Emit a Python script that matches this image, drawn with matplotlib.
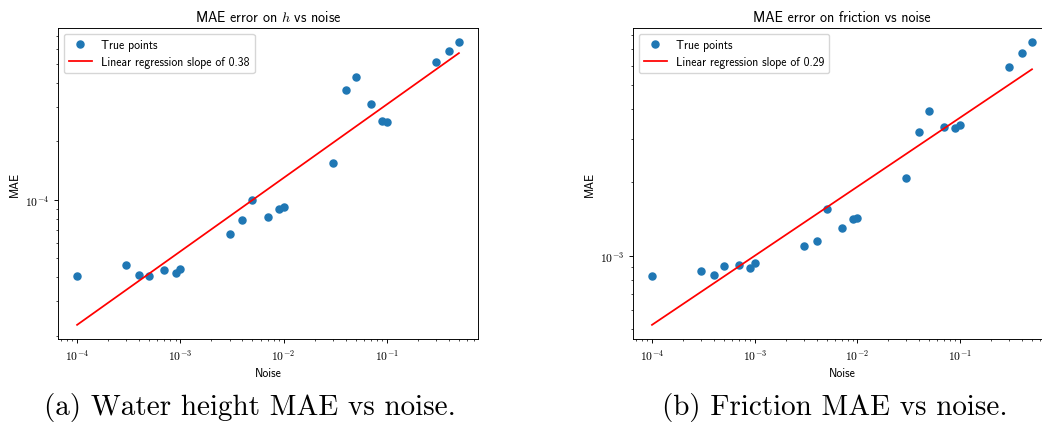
import numpy as np
import matplotlib
matplotlib.use('Agg')
import matplotlib.pyplot as plt
from matplotlib.ticker import FuncFormatter, NullFormatter

noise = [1e-4, 3e-4, 4e-4, 5e-4, 7e-4, 9e-4,
         1e-3, 3e-3, 4e-3, 5e-3, 7e-3, 9e-3,
         1e-2, 3e-2, 4e-2, 5e-2, 7e-2, 9e-2,
         1e-1, 3e-1, 4e-1, 5e-1]
mae_h = [4.04e-5, 4.63e-5, 4.09e-5, 4.07e-5, 4.33e-5, 4.19e-5,
         4.41e-5, 6.64e-5, 7.92e-5, 1.00e-4, 8.15e-5, 8.92e-5,
         9.24e-5, 1.55e-4, 3.68e-4, 4.31e-4, 3.11e-4, 2.55e-4,
         2.52e-4, 5.10e-4, 5.81e-4, 6.49e-4]
mae_friction = [8.29e-4, 8.69e-4, 8.39e-4, 9.05e-4, 9.16e-4, 8.88e-4,
                9.34e-4, 1.10e-3, 1.15e-3, 1.55e-3, 1.30e-3, 1.41e-3,
                1.43e-3, 2.08e-3, 3.21e-3, 3.92e-3, 3.37e-3, 3.34e-3,
                3.45e-3, 5.91e-3, 6.76e-3, 7.50e-3]
slope_text = ['0.38', '0.29']
titles = [r'MAE error on $h$ vs noise', 'MAE error on friction vs noise']
captions = ['(a) Water height MAE vs noise.', '(b) Friction MAE vs noise.']

# the original plots look like default matplotlib figures shrunk to ~0.845
k = 0.845
plt.rcParams['font.family'] = 'cmss10'
plt.rcParams['mathtext.fontset'] = 'cm'
plt.rcParams['axes.unicode_minus'] = False
plt.rcParams['axes.linewidth'] = 0.8 * k
plt.rcParams['xtick.major.width'] = 0.8 * k
plt.rcParams['ytick.major.width'] = 0.8 * k
plt.rcParams['xtick.minor.width'] = 0.6 * k
plt.rcParams['ytick.minor.width'] = 0.6 * k
plt.rcParams['xtick.major.size'] = 3.5 * k
plt.rcParams['ytick.major.size'] = 3.5 * k
plt.rcParams['xtick.minor.size'] = 2 * k
plt.rcParams['ytick.minor.size'] = 2 * k
plt.rcParams['xtick.major.pad'] = 3.5 * k
plt.rcParams['ytick.major.pad'] = 3.5 * k
plt.rcParams['axes.labelpad'] = 4 * k
plt.rcParams['axes.titlepad'] = 6 * k
plt.rcParams['legend.fontsize'] = 10 * k

W, H = 1042, 435
fig = plt.figure(figsize=(W / 100, H / 100), dpi=100)
boxes = [(58, 29, 420, 311), (633, 29, 418, 311)]
caption_x = [250, 835]


def decade(v, pos):
    return r'$10^{%d}$' % int(round(np.log10(v)))


for i, mae in enumerate([mae_h, mae_friction]):
    x0, y0, w, h = boxes[i]
    ax = fig.add_axes([x0 / W, 1 - (y0 + h) / H, w / W, h / H])
    lx = np.log10(noise)
    ly = np.log10(mae)
    a, b = np.polyfit(lx, ly, 1)
    ax.scatter(noise, mae, s=(6 * k) ** 2, color='tab:blue', label='True points')
    ax.plot(noise, 10 ** (a * lx + b), color='red', lw=1.5 * k,
            label='Linear regression slope of ' + slope_text[i])
    ax.set_xscale('log')
    ax.set_yscale('log')
    for axis in [ax.xaxis, ax.yaxis]:
        axis.set_major_formatter(FuncFormatter(decade))
        axis.set_minor_formatter(NullFormatter())
    ax.tick_params(labelsize=10 * k)
    ax.set_title(titles[i], fontsize=12 * k)
    ax.set_xlabel('Noise', fontsize=10 * k)
    ax.set_ylabel('MAE', fontsize=10 * k)
    ax.legend(loc='upper left')
    fig.text(caption_x[i] / W, 1 - 408 / H, captions[i], family='cmr10',
             fontsize=21, ha='center', va='center')

fig.savefig('out.png', dpi=100)
